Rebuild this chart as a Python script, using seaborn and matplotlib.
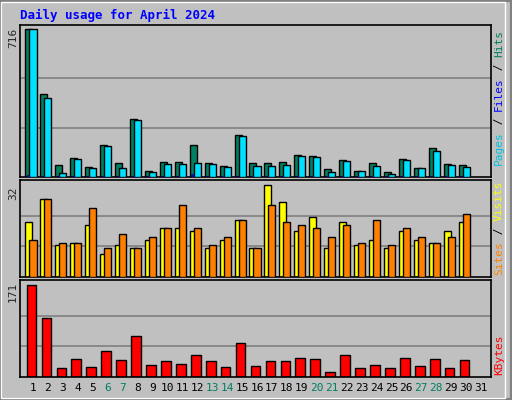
import matplotlib
matplotlib.use("Agg")
import matplotlib.pyplot as plt
import seaborn as sns
import pandas as pd
import numpy as np
from matplotlib.patches import Rectangle

days = list(range(1, 31))
hits = [716,400,57,91,48,157,67,281,29,72,72,157,67,52,205,67,67,72,105,101,38,81,29,67,24,86,43,138,62,57]
files = [716,380,19,86,43,152,43,277,24,62,62,67,62,48,200,52,52,57,100,96,24,76,29,52,14,81,43,124,57,48]
pages = [8,6,3,5,3,6,4,6,3,5,4,14,5,4,6,5,4,5,6,5,3,5,3,4,3,5,4,6,4,4]
sites = [19,27,11,12,18,8,11,10,13,17,17,16,10,13,20,10,32,26,16,21,10,19,11,13,10,16,13,12,16,19]
visits = [13,27,12,12,24,10,15,10,14,17,25,17,11,14,20,10,25,19,18,17,14,18,12,20,11,17,14,12,14,22]
kbytes = [171,109,17,34,19,49,31,76,23,29,25,40,29,19,64,21,29,29,36,34,10,40,17,23,17,36,21,34,16,31]
tick_labels = [str(d) for d in range(1, 32)]
weekend = {6,7,13,14,20,21,27,28}

sns.set_style("white")
plt.rcParams['font.family'] = ['DejaVu Sans Mono', 'DejaVu Sans']
BG = "#C0C0C0"
fig = plt.figure(figsize=(5.12, 4.0), dpi=100, facecolor=BG)
fig.patches.append(Rectangle((0, 0), 1, 1, transform=fig.transFigure, fill=False, ec="#808080", lw=3))
fig.patches.append(Rectangle((0.002, 0.004), 0.985, 0.99, transform=fig.transFigure, fill=False, ec="white", lw=1))

xl = (0.13, 31.67)
def mk(bottom, h):
    ax = fig.add_axes([20/512, bottom, 471/512, h])
    ax.set_facecolor(BG)
    ax.set_xlim(*xl)
    ax.set_xticks([]); ax.set_yticks([])
    for s in ax.spines.values():
        s.set_color("black"); s.set_linewidth(1.2)
    return ax

d = np.array(days)
w = 0.47
ax1 = mk(1-177/400, 152/400)
ax1.set_ylim(0, 716*151/147)
for g in (716/3, 716*2/3):
    ax1.axhline(g, color="#808080", lw=1.2, zorder=0)
ax1.bar(d-0.27, hits, width=w, color="#008060", ec="black", lw=1, zorder=2)
ax1.bar(d, files, width=w, color="#00E0FF", ec="black", lw=1, zorder=3)
ax1.bar(d-0.33, pages, width=0.13, color="#0000FF", ec="#000080", lw=0.5, zorder=4)

ax2 = mk(1-277/400, 97/400)
ax2.set_ylim(0, 32*97/92)
for g in (32/3, 64/3):
    ax2.axhline(g, color="#808080", lw=1.2, zorder=0)
ax2.bar(d-0.27, sites, width=w, color="#FFFF00", ec="black", lw=1, zorder=2)
ax2.bar(d, visits, width=w, color="#FF8000", ec="black", lw=1, zorder=3)

ax3 = mk(1-377/400, 97/400)
ax3.set_ylim(0, 171*97/92)
for g in (57, 114):
    ax3.axhline(g, color="#808080", lw=1.2, zorder=0)
df = pd.DataFrame({"day": d - 0.1, "kb": kbytes})
sns.barplot(data=df, x="day", y="kb", native_scale=True, width=0.65, color="#FF0000",
            saturation=1, edgecolor="black", linewidth=1, ax=ax3, zorder=2)
ax3.set_xlim(*xl); ax3.set_xlabel(""); ax3.set_ylabel(""); ax3.set_xticks([]); ax3.set_yticks([])

for i, lab in enumerate(tick_labels):
    x = (20 + (i + 1 - xl[0]) / (xl[1]-xl[0]) * 471) / 512
    fig.text(x, 1-388/400, lab, ha="center", va="center", fontsize=8,
             color="#008060" if (i+1) in weekend else "black")

fig.text(8/512, 1-38/400, "716", rotation=90, ha="left", va="center", fontsize=8)
fig.text(8/512, 1-193/400, "32", rotation=90, ha="left", va="center", fontsize=8)
fig.text(8/512, 1-292/400, "171", rotation=90, ha="left", va="center", fontsize=8)
fig.text(20/512, 1-15/400, "Daily usage for April 2024", color="#0000FF", fontsize=9,
         fontweight="bold", ha="left", va="center")

renderer = fig.canvas.get_renderer()
def vlabel(parts, ybot):
    y = ybot
    for txt, col in parts:
        t = fig.text(499/512, y, txt, rotation=90, ha="center", va="bottom", fontsize=8, color=col)
        bb = t.get_window_extent(renderer)
        y += bb.height / 400
vlabel([("Pages", "#00C0E0"), (" / ", "black"), ("Files", "#0000FF"), (" / ", "black"), ("Hits", "#008060")], 1-165/400)
vlabel([("Sites", "#FF8000"), (" / ", "black"), ("Visits", "#FFFF00")], 1-275/400)
vlabel([("KBytes", "#FF0000")], 1-375/400)

fig.savefig("out.png", dpi=100, facecolor=BG)
